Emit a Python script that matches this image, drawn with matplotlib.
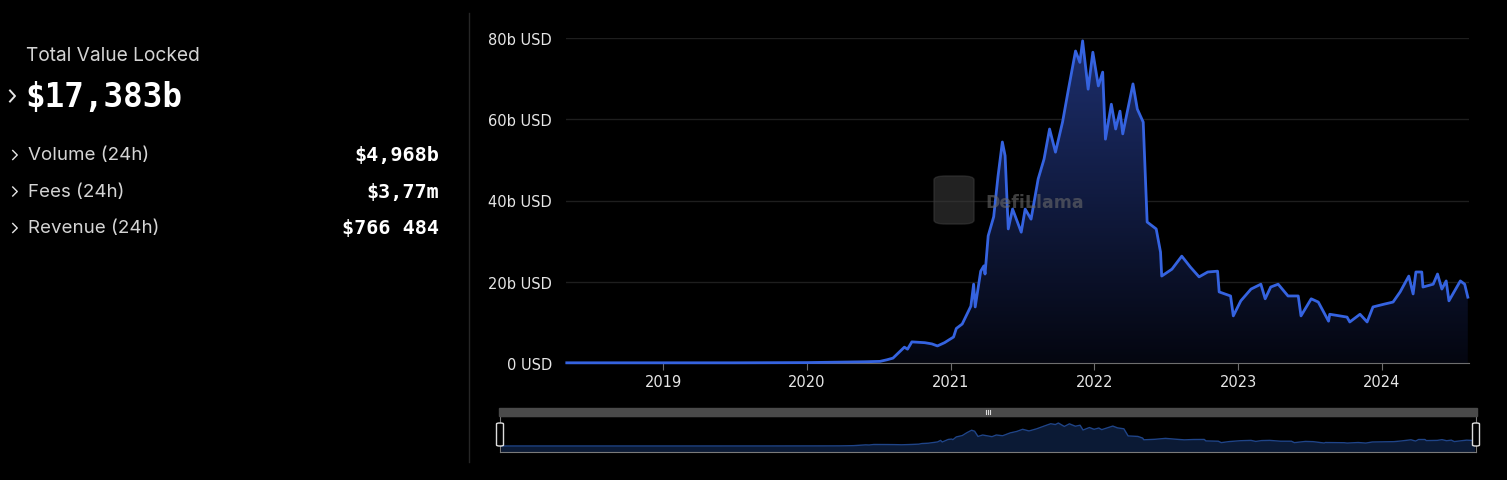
import numpy as np
import pandas as pd
import matplotlib.pyplot as plt
import matplotlib.dates as mdates
from matplotlib.colors import LinearSegmentedColormap
from matplotlib.patches import FancyBboxPatch, Rectangle
from matplotlib.lines import Line2D

# TVL history (billions USD)
dates = ["2018-05-01", "2019-07-01", "2020-01-01", "2020-05-26", "2020-07-05", "2020-07-23",
         "2020-08-07", "2020-09-05", "2020-09-13", "2020-09-24", "2020-10-27", "2020-11-14",
         "2020-11-28", "2020-12-16", "2021-01-08", "2021-01-15", "2021-01-30", "2021-02-21",
         "2021-02-28", "2021-03-04", "2021-03-18", "2021-03-26", "2021-03-29", "2021-04-06",
         "2021-04-20", "2021-05-01", "2021-05-12", "2021-05-19", "2021-05-27", "2021-06-07",
         "2021-06-29", "2021-07-09", "2021-07-24", "2021-08-11", "2021-08-26", "2021-09-09",
         "2021-09-24", "2021-10-12", "2021-10-27", "2021-11-14", "2021-11-25", "2021-12-02",
         "2021-12-16", "2021-12-28", "2022-01-11", "2022-01-22", "2022-01-29", "2022-02-13",
         "2022-02-24", "2022-03-07", "2022-03-14", "2022-04-09", "2022-04-20", "2022-05-05",
         "2022-05-15", "2022-06-07", "2022-06-18", "2022-06-21", "2022-07-17", "2022-08-11",
         "2022-09-02", "2022-09-24", "2022-10-16", "2022-11-10", "2022-11-14", "2022-12-13",
         "2022-12-20", "2023-01-08", "2023-02-03", "2023-02-28", "2023-03-11", "2023-03-25",
         "2023-04-13", "2023-05-08", "2023-06-03", "2023-06-10", "2023-07-06", "2023-07-24",
         "2023-08-19", "2023-08-22", "2023-10-05", "2023-10-12", "2023-11-07", "2023-11-25",
         "2023-12-10", "2024-01-08", "2024-01-30", "2024-02-17", "2024-03-10", "2024-03-21",
         "2024-03-28", "2024-04-12", "2024-04-15", "2024-05-11", "2024-05-22", "2024-06-02",
         "2024-06-13", "2024-06-20", "2024-07-19", "2024-07-30", "2024-08-07"]
tvl = [0.05, 0.05, 0.1, 0.3, 0.4, 0.8,
       1.2, 3.9, 3.4, 5.2, 5.0, 4.7,
       4.2, 5.0, 6.4, 8.5, 9.6, 14.0,
       19.4, 13.8, 22.6, 23.9, 21.9, 31.3,
       36.0, 46.0, 54.4, 51.0, 33.0, 37.9,
       32.2, 37.9, 35.4, 45.3, 50.2, 57.6,
       51.9, 59.3, 67.4, 76.8, 74.0, 79.3,
       67.4, 76.5, 68.2, 71.6, 55.1, 63.7,
       57.6, 62.0, 56.4, 68.7, 62.5, 59.3,
       34.7, 33.0, 27.3, 21.4, 23.1, 26.3,
       23.6, 21.2, 22.4, 22.6, 17.5, 16.5,
       11.6, 15.3, 18.2, 19.4, 15.8, 18.7,
       19.4, 16.5, 16.5, 11.6, 15.8, 15.0,
       10.3, 12.0, 11.3, 10.1, 12.0, 10.1,
       13.8, 14.5, 15.0, 17.5, 21.4, 17.0,
       22.4, 22.4, 18.7, 19.4, 21.9, 18.2,
       20.2, 15.3, 20.2, 19.4, 16.2]

ytick_vals = [0, 20, 40, 60, 80]
ytick_labels = ["0 USD", "20b USD", "40b USD", "60b USD", "80b USD"]
years = [2019, 2020, 2021, 2022, 2023, 2024]

stat_labels = ["Volume (24h)", "Fees (24h)", "Revenue (24h)"]
stat_values = ["$4,968b", "$3,77m", "$766 484"]

W, H = 1507, 481
fig = plt.figure(figsize=(W / 100, H / 100), dpi=100, facecolor="black")


def fx(px):
    return px / W


def fy(py):
    return 1 - py / H


x = mdates.date2num(pd.to_datetime(dates))
xmin = mdates.date2num(pd.Timestamp("2018-04-29"))
xmax = mdates.date2num(pd.Timestamp("2024-08-10"))

# main chart
ax = fig.add_axes([fx(566), fy(364), fx(903), 325 / H])
ax.set_facecolor("black")
poly = ax.fill_between(x, tvl, 0, color="none", lw=0)
cmap = LinearSegmentedColormap.from_list("g", ["#040610", "#1d2f6e"])
grad = np.linspace(0, 1, 256).reshape(-1, 1)
im = ax.imshow(grad, extent=[xmin, xmax, 0, 80], origin="lower", aspect="auto",
               cmap=cmap, zorder=1)
im.set_clip_path(poly.get_paths()[0], transform=ax.transData)
ax.plot(x, tvl, color="#3563e0", lw=2, zorder=3, clip_on=False)
ax.set_xlim(xmin, xmax)
ax.set_ylim(0, 80)
ax.set_yticks(ytick_vals)
ax.set_yticklabels(ytick_labels)
ax.yaxis.grid(True, color="#1e1e1e", lw=1)
ax.set_axisbelow(True)
ax.set_xticks([mdates.date2num(pd.Timestamp(f"{y}-01-01")) for y in years])
ax.set_xticklabels([str(y) for y in years])
for s in ["top", "right", "left"]:
    ax.spines[s].set_visible(False)
ax.spines["bottom"].set_color("#6e6e6e")
ax.tick_params(axis="y", length=0, pad=10, labelcolor="#e6e6e6", labelsize=10.5)
ax.tick_params(axis="x", length=5, color="#6e6e6e", pad=3, labelcolor="#e6e6e6", labelsize=10.5)

# watermark
fig.add_artist(FancyBboxPatch((fx(934), fy(225)), fx(40), 48 / H,
                              boxstyle="round,pad=0,rounding_size=0.008",
                              transform=fig.transFigure, color="#3a3a3a", alpha=0.6, zorder=4))
fig.text(fx(985), fy(203), "DefiLlama", color="#6a6a6a", alpha=0.6, fontsize=12.5,
         fontweight="bold", va="center", ha="left", zorder=5)

# overview / zoom slider
ax2 = fig.add_axes([fx(500), fy(453), fx(976), 36 / H])
ax2.set_facecolor("black")
ax2.fill_between(x, tvl, -20.7, color="#0b1a35", lw=0)
ax2.plot(x, tvl, color="#1f4488", lw=1)
ax2.set_xlim(xmin, xmax)
ax2.set_ylim(-20.7, 103.5)
ax2.set_xticks([])
ax2.set_yticks([])
for s in ax2.spines.values():
    s.set_color("#7a7a7a")
    s.set_linewidth(0.8)
fig.add_artist(Rectangle((fx(499), fy(417)), fx(978), 8 / H, transform=fig.transFigure,
                         color="#4a4a4a"))
for gx in [986, 988, 990]:
    fig.add_artist(Line2D([fx(gx), fx(gx)], [fy(415), fy(411)], transform=fig.transFigure,
                          color="#dddddd", lw=0.8))
for hx in [500, 1476]:
    fig.add_artist(FancyBboxPatch((fx(hx - 3.5), fy(447)), fx(7), 23 / H,
                                  boxstyle="round,pad=0,rounding_size=0.002",
                                  transform=fig.transFigure, facecolor="black",
                                  edgecolor="#dddddd", lw=1, zorder=6))

# separator
fig.add_artist(Line2D([fx(469), fx(469)], [fy(14), fy(463)], transform=fig.transFigure,
                      color="#262626", lw=1))


def chevron(cx, cy, w, h, lw):
    fig.add_artist(Line2D([fx(cx - w / 2), fx(cx + w / 2), fx(cx - w / 2)],
                          [fy(cy - h / 2), fy(cy), fy(cy + h / 2)],
                          transform=fig.transFigure, color="#e6e6e6", lw=lw))


# left panel
fig.text(fx(26), fy(56), "Total Value Locked", color="#d4d4d4", fontsize=13.8,
         family="Inter", va="center", ha="left")
chevron(12.5, 97, 5, 11, 1.4)
fig.text(fx(25), fy(98), "$17,383b", color="white", fontsize=23.5, family="DejaVu Sans Mono",
         fontweight="bold", va="center", ha="left")
for i, (lab, val) in enumerate(zip(stat_labels, stat_values)):
    cy = 156 + i * 36.5
    chevron(15, cy, 4.5, 9, 1.0)
    fig.text(fx(28), fy(cy), lab, color="#d4d4d4", fontsize=13.5, family="Inter",
             va="center", ha="left")
    fig.text(fx(439), fy(cy), val, color="white", fontsize=14.5, family="DejaVu Sans Mono",
             fontweight="bold", va="center", ha="right")

fig.savefig("out.png", dpi=100, facecolor="black")
